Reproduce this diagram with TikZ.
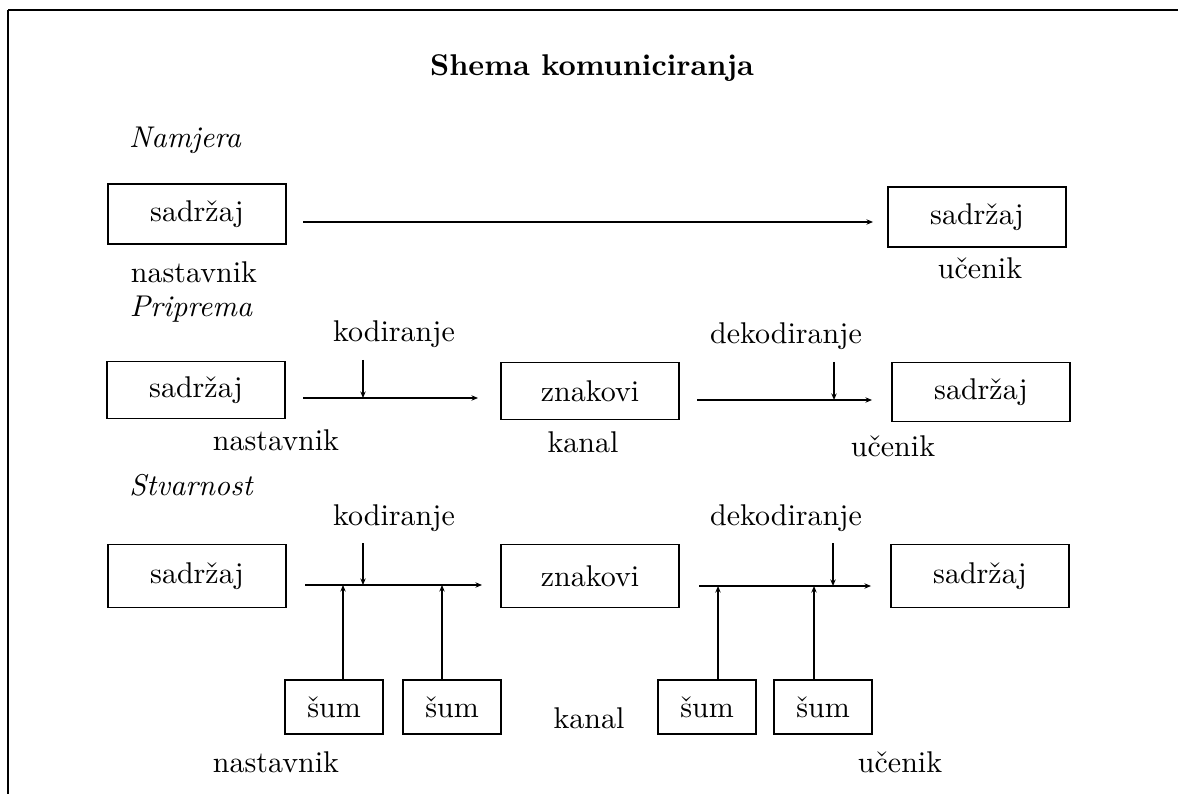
\documentclass[tikz,border=0pt]{standalone}
\usetikzlibrary{arrows.meta}
\newlength{\du}
\setlength{\du}{0.333333pt}
\tikzset{
  kutija/.style={draw, minimum width=178\du, minimum height=60\du, inner sep=0pt},
  sumkutija/.style={draw, minimum width=98\du, minimum height=54\du, inner sep=0pt},
  tok/.style={-{Stealth[length=2.2pt,width=1.8pt]}},
}
\begin{document}
\begin{tikzpicture}
\pgftransformxscale{1.000000}
\pgftransformyscale{-1.000000}
\pgfsetlinewidth{1.2\du}
\useasboundingbox (0\du,0\du) rectangle (1178\du,794\du);
% frame
\draw[line width=2.4\du] (8\du,794\du)--(8\du,10\du);
\draw (8\du,10\du)--(1178\du,10\du);
% setfont left to latex
\node (naslov) at (592\du,68\du){\bfseries Shema komuniciranja};
% Namjera
\node (namjera) at (185\du,140\du){\itshape Namjera};
\node[kutija] (s1) at (197\du,214\du){sadržaj};
\node[kutija] (u1) at (977\du,217\du){sadržaj};
\node (nast1) at (194\du,272\du){nastavnik};
\node (uc1) at (980\du,268\du){učenik};
\coordinate (r1a) at (303\du,222\du);
\coordinate (r1b) at (873\du,222\du);
\draw[tok] (r1a)--(r1b);
% Priprema
\node (priprema) at (191\du,309\du){\itshape Priprema};
\node (kod2) at (394\du,334\du){kodiranje};
\node (dek2) at (786\du,336\du){dekodiranje};
\node[kutija,minimum height=57\du] (s2) at (196\du,390\du){sadržaj};
\node[kutija,minimum height=57\du] (z2) at (590\du,391\du){znakovi};
\node[kutija,minimum height=59\du] (u2) at (981\du,392\du){sadržaj};
\node (nast2) at (276\du,440\du){nastavnik};
\node (kanal2) at (583\du,442\du){kanal};
\node (uc2) at (893\du,446\du){učenik};
\coordinate (r2a) at (303\du,398\du);
\coordinate (r2b) at (478\du,398\du);
\coordinate (r2c) at (697\du,400\du);
\coordinate (r2d) at (872\du,400\du);
\coordinate (k2) at (363\du,360\du);
\coordinate (d2) at (834\du,362\du);
\draw[tok] (r2a)--(r2b);
\draw[tok] (r2c)--(r2d);
\draw[tok] (k2)--(k2 |- r2a);
\draw[tok] (d2)--(d2 |- r2c);
% Stvarnost
\node (stvarnost) at (191\du,485\du){\itshape Stvarnost};
\node (kod3) at (394\du,518\du){kodiranje};
\node (dek3) at (786\du,518\du){dekodiranje};
\node[kutija,minimum height=63\du] (s3) at (197\du,576\du){sadržaj};
\node[kutija,minimum height=63\du] (z3) at (590\du,576\du){znakovi};
\node[kutija,minimum height=63\du] (u3) at (980\du,576\du){sadržaj};
\node[sumkutija] (sa) at (334\du,707\du){šum};
\node[sumkutija] (sb) at (452\du,707\du){šum};
\node[sumkutija] (sc) at (707\du,707\du){šum};
\node[sumkutija] (sd) at (823\du,707\du){šum};
\node (kanal3) at (589\du,718\du){kanal};
\node (nast3) at (276\du,762\du){nastavnik};
\node (uc3) at (900\du,762\du){učenik};
\coordinate (r3a) at (305\du,585\du);
\coordinate (r3b) at (482\du,585\du);
\coordinate (r3c) at (699\du,586\du);
\coordinate (r3d) at (871\du,586\du);
\coordinate (k3) at (363\du,543\du);
\coordinate (d3) at (833\du,543\du);
\draw[tok] (r3a)--(r3b);
\draw[tok] (r3c)--(r3d);
\draw[tok] (k3)--(k3 |- r3a);
\draw[tok] (d3)--(d3 |- r3c);
% sum arrows
\coordinate (na) at ([xshift=9\du]sa.north);
\coordinate (nb) at ([xshift=-10\du]sb.north);
\coordinate (nc) at ([xshift=11\du]sc.north);
\coordinate (nd) at ([xshift=-9\du]sd.north);
\draw[tok] (na)--(na |- r3a);
\draw[tok] (nb)--(nb |- r3a);
\draw[tok] (nc)--(nc |- r3c);
\draw[tok] (nd)--(nd |- r3c);
\end{tikzpicture}
\end{document}
